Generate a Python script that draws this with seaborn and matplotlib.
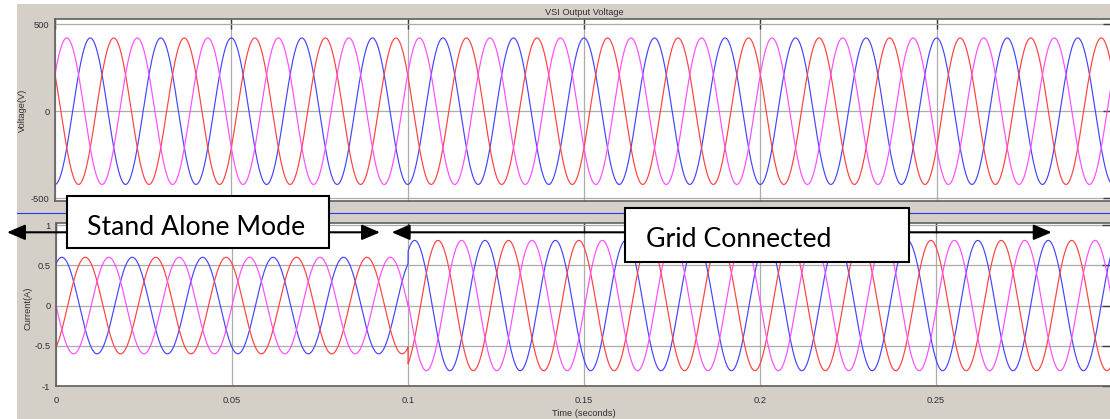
import numpy as np
import pandas as pd
import matplotlib
matplotlib.use("Agg")
import matplotlib.pyplot as plt
import seaborn as sns
from matplotlib.patches import Rectangle, FancyArrowPatch, ArrowStyle
from matplotlib.lines import Line2D

# ---------------- data ----------------
phase_names = ["Phase A", "Phase B", "Phase C"]
phase_colors = ["#4444ff", "#ff4040", "#ff4cff"]
grid_frequency_hz = 50
voltage_amplitude_v = 420
voltage_phase_deg = [180, 60, -60]
standalone_current_amp_a = 0.60
standalone_current_phase_deg = [-30, -150, 90]
grid_current_amp_a = 0.81
grid_current_phase_deg = [-34, -154, 86]
mode_switch_time_s = 0.1
time_span_s = [0.0, 0.3]
time_ticks = [0, 0.05, 0.1, 0.15, 0.2, 0.25]
time_tick_labels = ["0", "0.05", "0.1", "0.15", "0.2", "0.25"]
voltage_ticks = [-500, 0, 500]
voltage_tick_labels = ["-500", "0", "500"]
current_ticks = [-1, -0.5, 0, 0.5, 1]
current_tick_labels = ["-1", "-0.5", "0", "0.5", "1"]
mode_labels = ["Stand Alone Mode", "Grid Connected"]

# ---------------- build the waveforms ----------------
t = np.linspace(time_span_s[0], time_span_s[1], 12001)
w = 2 * np.pi * grid_frequency_hz
frames = []
for name, pv, ps, pg in zip(phase_names, voltage_phase_deg,
                            standalone_current_phase_deg, grid_current_phase_deg):
    v = voltage_amplitude_v * np.cos(w * t + np.deg2rad(pv))
    i_sa = standalone_current_amp_a * np.cos(w * t + np.deg2rad(ps))
    i_gc = grid_current_amp_a * np.cos(w * t + np.deg2rad(pg))
    cur = np.where(t < mode_switch_time_s, i_sa, i_gc)
    frames.append(pd.DataFrame({"time": t, "voltage": v, "current": cur, "phase": name}))
df = pd.concat(frames, ignore_index=True)
palette = dict(zip(phase_names, phase_colors))

# ---------------- style ----------------
sns.set_theme(style="white")
plt.rcParams["font.family"] = ["Liberation Sans", "DejaVu Sans"]

W, H = 1110, 419
fig = plt.figure(figsize=(W / 100, H / 100), dpi=100, facecolor="white")


def fx(px):
    return px / W


def fy(py):
    return 1 - py / H


# grey scope panel
fig.add_artist(Rectangle((fx(17), 0), 1 - fx(17), fy(4), transform=fig.transFigure,
                         facecolor="#d4d0c8", edgecolor="none", zorder=-10))
# blue separator line
fig.add_artist(Line2D([fx(17), 1], [fy(213.3), fy(213.3)], transform=fig.transFigure,
                      color="#3030ff", lw=0.8, zorder=-5))

ax1 = fig.add_axes([fx(55), fy(201), fx(1113) - fx(55), (201 - 19.3) / H])
ax2 = fig.add_axes([fx(56), fy(386), fx(1112) - fx(56), (386 - 223.5) / H])

sns.lineplot(data=df, x="time", y="voltage", hue="phase", palette=palette,
             estimator=None, sort=False, legend=False, linewidth=0.85, ax=ax1)
sns.lineplot(data=df, x="time", y="current", hue="phase", palette=palette,
             estimator=None, sort=False, legend=False, linewidth=0.85, ax=ax2)

for ax in (ax1, ax2):
    ax.set_facecolor("white")
    ax.set_xlim(time_span_s)
    ax.set_xticks(time_ticks)
    ax.grid(True, color="#acacac", lw=0.9)
    ax.set_axisbelow(True)
    ax.tick_params(direction="in", length=7, width=1.0, top=True, right=True,
                   color="#404040", labelsize=6.7, labelcolor="#303030", pad=4)
    for s in ax.spines.values():
        s.set_color("#606060")
        s.set_linewidth(1.2)

ax1.set_ylim(-515, 527)
ax1.set_yticks(voltage_ticks)
ax1.set_yticklabels(voltage_tick_labels)
ax1.set_xticklabels([])
ax1.set_xlabel("")
ax1.set_ylabel("Voltage(V)", fontsize=6.7, color="#303030")
ax1.yaxis.set_label_coords(-0.0265, 0.5)
ax1.set_title("VSI Output Voltage", fontsize=6.7, color="#303030", pad=3)

ax2.set_ylim(-1.0, 1.02)
ax2.set_yticks(current_ticks)
ax2.set_yticklabels(current_tick_labels)
ax2.set_xticklabels(time_tick_labels)
ax2.tick_params(axis="x", pad=7)
ax2.set_ylabel("Current(A)", fontsize=6.7, color="#303030")
ax2.yaxis.set_label_coords(-0.0227, 0.48)
ax2.set_xlabel("Time (seconds)", fontsize=6.7, color="#303030", labelpad=3)

# ---------------- mode annotations ----------------
style = ArrowStyle("<|-|>", head_length=1.1, head_width=0.47)
for (x0, x1) in [(7, 380), (391.7, 1051.7)]:
    fig.add_artist(FancyArrowPatch((fx(x0), fy(232.3)), (fx(x1), fy(232.3)),
                                   transform=fig.transFigure, arrowstyle=style,
                                   mutation_scale=10, lw=1.5, color="black",
                                   shrinkA=0, shrinkB=0, zorder=5))

boxes = [(67, 196, 329, 248), (625, 208.3, 909, 262.3)]
text_pos = [(87, 235), (645.7, 246.7)]
for (l, tp, r, b), (tx, ty), label in zip(boxes, text_pos, mode_labels):
    fig.add_artist(Rectangle((fx(l), fy(b)), fx(r) - fx(l), (b - tp) / H,
                             transform=fig.transFigure, facecolor="white",
                             edgecolor="black", lw=1.5, zorder=6))
    fig.text(fx(tx), fy(ty), label, fontsize=19.2, family=["Lato", "DejaVu Sans"],
             ha="left", va="baseline", color="black", zorder=7)

fig.savefig("out.png", dpi=100, facecolor=fig.get_facecolor())
